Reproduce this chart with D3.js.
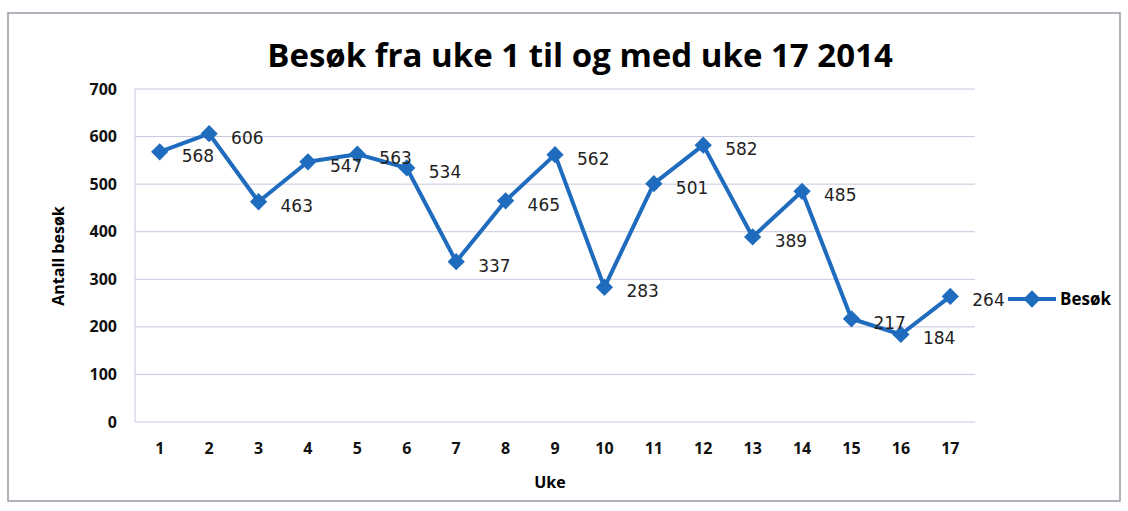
<!DOCTYPE html>
<html><head>
<meta charset="UTF-8">
<title>Besøk fra uke 1 til og med uke 17 2014</title>
<script src="https://d3js.org/d3.v7.min.js"></script>
<style>
  body { margin: 0; background: #fff; }
  .grid line { stroke: #c9c6dd; stroke-width: 1px; }
  .axis text { font-family: "Open Sans", sans-serif; font-weight: bold; font-size: 16px; fill: #111; }
  .axis path, .axis line { stroke: none; }
  .line { fill: none; stroke: #1f6bbd; stroke-width: 4px; stroke-linejoin: round; }
  .lbl { font-family: "DejaVu Sans", sans-serif; font-size: 17px; fill: #222; }
</style>
</head>
<body>
<script>
// weeks and visits
var weeks = ["1","2","3","4","5","6","7","8","9","10","11","12","13","14","15","16","17"];
var visits = [568, 606, 463, 547, 563, 534, 337, 465, 562, 283, 501, 582, 389, 485, 217, 184, 264];
var yTicks = [0, 100, 200, 300, 400, 500, 600, 700];

var W = 1128, H = 511;
var plot = {left: 135, top: 89, right: 975, bottom: 422};

var svg = d3.select("body").append("svg")
    .attr("width", W).attr("height", H);

// outer frame of the chart
svg.append("rect")
    .attr("x", 8).attr("y", 13).attr("width", 1112).attr("height", 488)
    .attr("fill", "#fff").attr("stroke", "#9a99a6").attr("stroke-width", 1.5);

var x = d3.scaleBand().domain(weeks).range([plot.left, plot.right]).padding(0);
var y = d3.scaleLinear().domain([0, 700]).range([plot.bottom, plot.top]);

// gridlines
svg.append("g").attr("class", "grid")
  .selectAll("line").data(yTicks).enter().append("line")
    .attr("x1", plot.left).attr("x2", plot.right)
    .attr("y1", function(d){ return y(d); }).attr("y2", function(d){ return y(d); });

svg.append("line")
    .attr("x1", plot.left).attr("x2", plot.left)
    .attr("y1", plot.top).attr("y2", plot.bottom)
    .attr("stroke", "#c9c6dd");

// axes
svg.append("g").attr("class", "axis")
    .attr("transform", "translate(" + (plot.left - 18) + ",0)")
    .call(d3.axisLeft(y).tickValues(yTicks).tickSize(0).tickPadding(0));

svg.append("g").attr("class", "axis")
    .attr("transform", "translate(0," + (plot.bottom + 15) + ")")
    .call(d3.axisBottom(x).tickSize(0).tickPadding(6));

// line
var valueline = d3.line()
    .x(function(d, i){ return x(weeks[i]) + x.bandwidth() / 2; })
    .y(function(d){ return y(d); });

svg.append("path")
    .datum(visits)
    .attr("class", "line")
    .attr("d", valueline);

// diamond markers
var diamond = d3.symbol().type(d3.symbolDiamond2).size(190);
svg.append("g").selectAll("path").data(visits).enter().append("path")
    .attr("d", diamond)
    .attr("fill", "#1f6bbd")
    .attr("transform", function(d, i){
      return "translate(" + (x(weeks[i]) + x.bandwidth() / 2) + "," + y(d) + ")";
    });

// data labels
svg.append("g").selectAll("text").data(visits).enter().append("text")
    .attr("class", "lbl")
    .attr("x", function(d, i){ return x(weeks[i]) + x.bandwidth() / 2 + 22; })
    .attr("y", function(d){ return y(d) + 10; })
    .text(function(d){ return d; });

// title
svg.append("text")
    .attr("x", 580).attr("y", 67)
    .attr("text-anchor", "middle")
    .style("font-family", "Open Sans, sans-serif")
    .style("font-weight", "bold")
    .style("font-size", "33px")
    .text("Besøk fra uke 1 til og med uke 17 2014");

// axis titles
svg.append("text")
    .attr("transform", "translate(64,256) rotate(-90)")
    .attr("text-anchor", "middle")
    .style("font-family", "Open Sans, sans-serif")
    .style("font-weight", "bold")
    .style("font-size", "16px")
    .text("Antall besøk");

svg.append("text")
    .attr("x", 550).attr("y", 488)
    .attr("text-anchor", "middle")
    .style("font-family", "Open Sans, sans-serif")
    .style("font-weight", "bold")
    .style("font-size", "16px")
    .text("Uke");

// legend
var lg = svg.append("g").attr("transform", "translate(1008,299)");
lg.append("line").attr("x1", 0).attr("x2", 48).attr("y1", 0).attr("y2", 0)
    .attr("stroke", "#1f6bbd").attr("stroke-width", 4);
lg.append("path").attr("d", diamond).attr("fill", "#1f6bbd")
    .attr("transform", "translate(24,0)");
lg.append("text").attr("x", 52).attr("y", 6)
    .style("font-family", "Open Sans, sans-serif")
    .style("font-weight", "bold")
    .style("font-size", "17px")
    .text("Besøk");
</script>
</body>
</html>
